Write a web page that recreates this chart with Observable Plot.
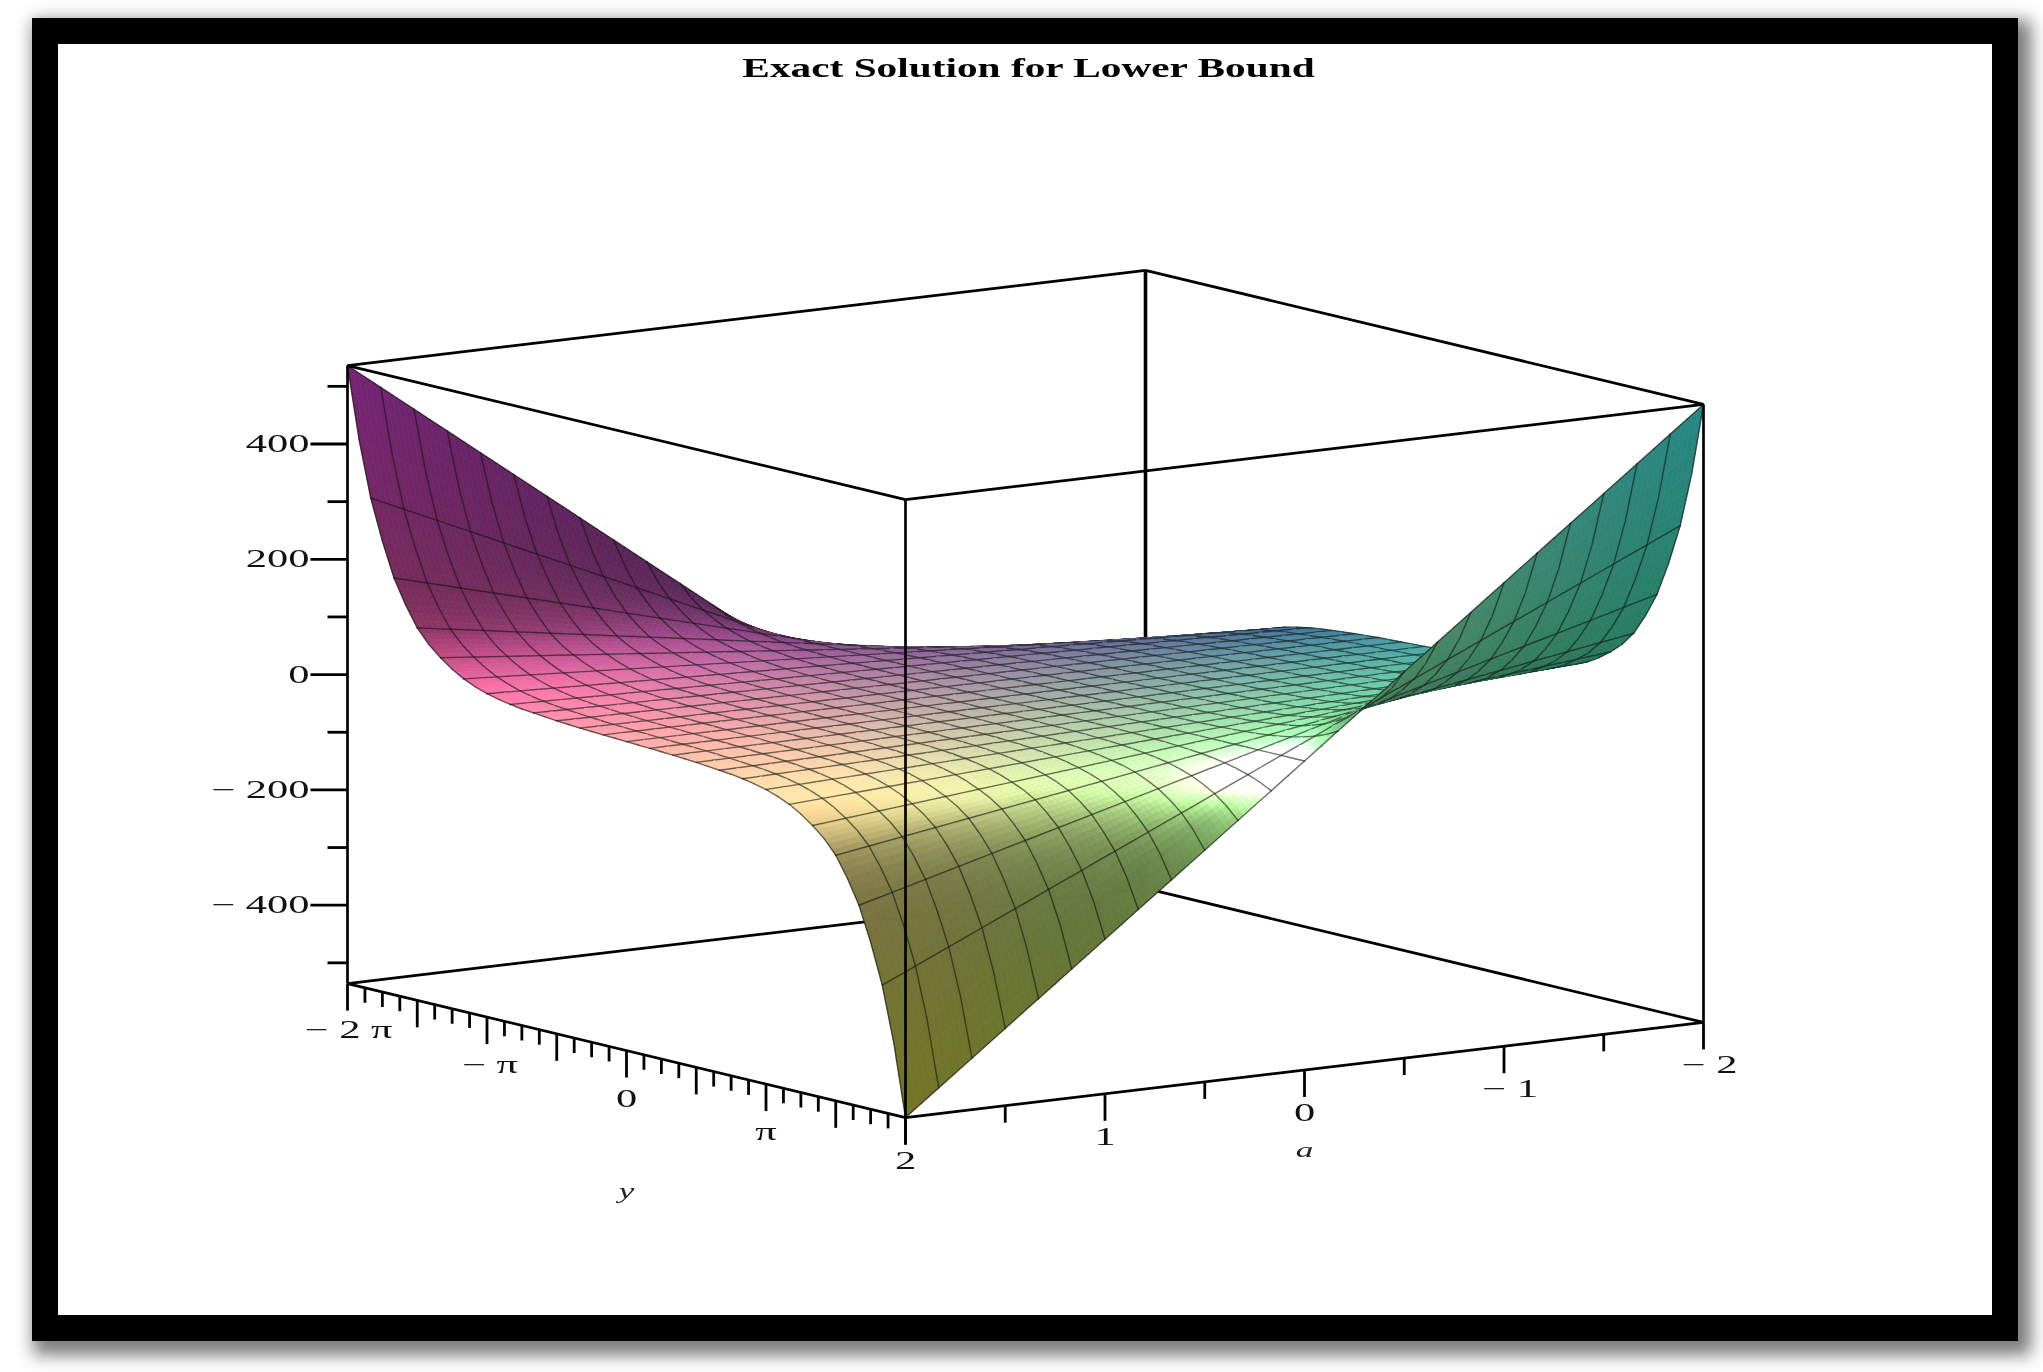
<!DOCTYPE html>
<html><head><meta charset="utf-8">
<script src="https://cdn.jsdelivr.net/npm/d3@7"></script>
<script src="https://cdn.jsdelivr.net/npm/@observablehq/plot@0.6"></script>
<style>
html,body{margin:0;padding:0;background:#fff;overflow:hidden}
#page{position:relative;width:2043px;height:1372px;background:#fff}
#border{position:absolute;left:32px;top:18px;width:1934px;height:1271px;border:26px solid #000;background:#fff;box-shadow:7px 8px 16px 6px rgba(0,0,0,.52)}
#chart{position:absolute;left:0;top:0;filter:blur(.55px)}
svg{background:transparent!important;max-width:none!important}
</style></head><body>
<div id="page"><div id="border"></div><div id="chart"></div></div>
<script>
const title = "Exact Solution for Lower Bound";
// height of the a = 2 edge read at each sample from y = -2π to y = 0 (step π/12)
const edgeHeights = [536,412,316,246,187,145,110,86,68,53,41,32,25,20,16,13,11,9,7,5.5,4,3,2,1,0];
const zRange = 536;
const zMajor = [400,200,0,-200,-400];
const zMinor = [500,300,100,-100,-300,-500];
const zLabels = ["400","200","0","− 200","− 400"];
const yLabels = [["− 2 π",-2],["− π",-1],["0",0],["π",1]];
const aTicks = [-2,-1.5,-1,-.5,0,.5,1,1.5,2];
const aLabels = ["− 2","− 1","0","1","2"];
const aLabelValues = [-2,-1,0,1,2];

// orthographic view of the box, in units of half the box side
const view = {cx:1025, cy:693.5, ax:-399, ay:47.6, yx:279, yy:67, zy:-309};
const P = (as,ys,zs)=>[view.cx+view.ax*as+view.yx*ys, view.cy+view.ay*as+view.yy*ys+view.zy*zs];
const N = 48, SUB = 3, GRID = 2;
const profile = [...edgeHeights, ...edgeHeights.slice(0,-1).reverse().map(v=>-v)].map(v=>v/zRange);
const nodes = d3.range(N+1).map(i=>d3.range(N+1).map(j=>{
  const as=-1+2*i/N, ys=-1+2*j/N, zs=as*profile[j];
  return {as,ys,zs};
}));
// lighting
const unit=v=>{const l=Math.hypot(...v);return v.map(c=>c/l)};
const dot=(p,q)=>p[0]*q[0]+p[1]*q[1]+p[2]*q[2];
const L=unit([.25,.1,.96]),H=unit([.42,.12,.9]),V=unit([.565,.807,.17]);
const zs=.65;
function shade(i,j){
  const n=nodes[i][j];
  const i0=Math.max(i-1,0),i1=Math.min(i+1,N),j0=Math.max(j-1,0),j1=Math.min(j+1,N);
  const dzda=(nodes[i1][j].zs-nodes[i0][j].zs)/(nodes[i1][j].as-nodes[i0][j].as);
  const dzdy=(nodes[i][j1].zs-nodes[i][j0].zs)/(nodes[i][j1].ys-nodes[i][j0].ys);
  const nn=unit([-zs*dzda,-zs*dzdy,1]);
  const base=[(n.as+1)/2,(n.ys+1)/2,(n.zs+1)/2];
  if(dot(nn,V)<0) return base.map(c=>c*.38+.15);
  const nl=Math.min(1,Math.abs(dot(nn,L))/.965);
  const p=Math.pow(nl,8);
  const f=.32+.46*p;
  const w=.14+.13*p+.9*Math.pow(Math.max(0,dot(nn,H)),40);
  return base.map(c=>c*f+w);
}
const colors=nodes.map((r,i)=>r.map((_,j)=>shade(i,j)));
const lerp=(a,b,t)=>a+(b-a)*t;
function bil(fn,i,j,u,v){return lerp(lerp(fn(i,j),fn(i+1,j),u),lerp(fn(i,j+1),fn(i+1,j+1),u),v)}
const toCss=c=>`rgb(${c.map(x=>Math.round(Math.min(1,Math.max(0,x))*255)).join(",")})`;
const gridStroke="rgba(15,20,15,.6)";
const verts=[];let gid=0;
function seg(i0,j0,i1,j1){
  const a=nodes[i0][j0],b=nodes[i1][j1];
  const pa=P(a.as,a.ys,a.zs),pb=P(b.as,b.ys,b.zs);
  verts.push({id:gid,x:pa[0],y:pa[1],f:"none",s:gridStroke,w:1.4});
  verts.push({id:gid,x:pb[0],y:pb[1],f:"none",s:gridStroke,w:1.4});
  gid++;
}
for(let j=0;j<N;j++)for(let i=0;i<N;i++){
  for(let sj=0;sj<SUB;sj++)for(let si=0;si<SUB;si++){
    const u0=si/SUB,u1=(si+1)/SUB,v0=sj/SUB,v1=(sj+1)/SUB,um=(u0+u1)/2,vm=(v0+v1)/2;
    const pos=(u,v)=>{
      const as=bil((a,b)=>nodes[a][b].as,i,j,u,v),ys=bil((a,b)=>nodes[a][b].ys,i,j,u,v),z=bil((a,b)=>nodes[a][b].zs,i,j,u,v);
      return P(as,ys,z);
    };
    const col=toCss([0,1,2].map(k=>bil((a,b)=>colors[a][b][k],i,j,um,vm)));
    const ring=[pos(u0,v0),pos(u1,v0),pos(u1,v1),pos(u0,v1),pos(u0,v0)];
    for(const p of ring)verts.push({id:gid,x:p[0],y:p[1],f:col,s:col,w:.7});
    gid++;
  }
  if(j%GRID===0)seg(i,j,i+1,j);
  if(i%GRID===0)seg(i,j,i,j+1);
  if(j===N-1)seg(i,N,i+1,N);
  if(i===N-1)seg(N,j,N,j+1);
}
// box edges
const c=(a,y,z)=>P(a,y,z);
const edge=(p,q)=>({x1:p[0],y1:p[1],x2:q[0],y2:q[1]});
const backEdges=[edge(c(-1,-1,-1),c(1,-1,-1)),edge(c(-1,-1,-1),c(-1,1,-1))];
const backPost=[edge(c(-1,-1,1),c(-1,-1,-1))];
const frontEdges=[
 edge(c(-1,-1,1),c(1,-1,1)),edge(c(-1,-1,1),c(-1,1,1)),edge(c(1,-1,1),c(1,1,1)),edge(c(-1,1,1),c(1,1,1)),
 edge(c(1,-1,1),c(1,-1,-1)),edge(c(-1,1,1),c(-1,1,-1)),edge(c(1,1,1),c(1,1,-1)),
 edge(c(1,-1,-1),c(1,1,-1)),edge(c(-1,1,-1),c(1,1,-1))];
// ticks
const ticks=[];
const zAt=z=>P(1,-1,z/zRange);
zMajor.forEach(z=>{const p=zAt(z);ticks.push({x1:p[0],y1:p[1],x2:p[0]-37,y2:p[1]})});
zMinor.forEach(z=>{const p=zAt(z);ticks.push({x1:p[0],y1:p[1],x2:p[0]-20,y2:p[1]})});
d3.range(-16,17).forEach(k=>{const ys=k/16;const p=P(1,ys,-1);const long=k%4===0;ticks.push({x1:p[0],y1:p[1],x2:p[0],y2:p[1]+(long?27:15)})});
aTicks.forEach(a=>{const p=P(a/2,1,-1);const long=Number.isInteger(a);ticks.push({x1:p[0],y1:p[1],x2:p[0],y2:p[1]+(long?27:17)})});
// labels
const zText=[],tickText=[],axisText=[];
zMajor.forEach((z,k)=>{const p=zAt(z);zText.push({x:p[0]-38,y:p[1],t:zLabels[k]})});
yLabels.forEach(([t,v])=>{const p=P(1,v/2,-1);tickText.push({x:p[0]+(v===-2?1:v===-1?3:0),y:p[1]+(v===-2?46:48),t})});
aLabels.forEach((t,k)=>{const a=aLabelValues[k];const p=P(a/2,1,-1);tickText.push({x:p[0]+(a<0?6:0),y:p[1]+43,t})});
const pA=P(0,1,-1),pY=P(1,0,-1);
axisText.push({x:pA[0],y:pA[1]+80,t:"a"},{x:pY[0],y:pY[1]+140,t:"y"});
const serif="Liberation Serif";
const plot=Plot.plot({
  width:2043,height:1372,margin:0,
  x:{domain:[0,2043],range:[0,2043],axis:null},
  y:{domain:[0,1372],range:[0,1372],axis:null},
  color:{type:"identity"},
  marks:[
    Plot.link(backEdges,{x1:"x1",y1:"y1",x2:"x2",y2:"y2",stroke:"#000",strokeWidth:2.7}),
    Plot.link(backPost,{x1:"x1",y1:"y1",x2:"x2",y2:"y2",stroke:"#000",strokeWidth:3.6}),
    Plot.line(verts,{x:"x",y:"y",z:"id",fill:"f",stroke:"s",strokeWidth:"w",curve:"linear"}),
    Plot.link(frontEdges,{x1:"x1",y1:"y1",x2:"x2",y2:"y2",stroke:"#000",strokeWidth:2.7}),
    Plot.link(ticks,{x1:"x1",y1:"y1",x2:"x2",y2:"y2",stroke:"#000",strokeWidth:2.8}),
    Plot.text(zText,{x:"x",y:"y",text:"t",textAnchor:"end",fontFamily:serif,fontSize:25,fill:"#111",className:"z-label"}),
    Plot.text(tickText,{x:"x",y:"y",text:"t",fontFamily:serif,fontSize:25,fill:"#111",className:"tick-label"}),
    Plot.text(axisText,{x:"x",y:"y",text:"t",fontFamily:serif,fontStyle:"italic",fontSize:22,fill:"#222",className:"axis-label"}),
    Plot.text([title],{x:()=>1028,y:()=>68,text:d=>d,fontFamily:serif,fontWeight:"bold",fontSize:27,fill:"#000",className:"chart-title"})
  ]
});
document.getElementById("chart").append(plot);
const stretch=(sel,k)=>plot.querySelectorAll(sel+" text").forEach(t=>{
  t.setAttribute("textLength",t.getComputedTextLength()*k);
  t.setAttribute("lengthAdjust","spacingAndGlyphs");
});
stretch(".z-label",1.7);
stretch(".tick-label",1.7);
stretch(".axis-label",1.6);
stretch(".chart-title",1.53);
</script></body></html>
